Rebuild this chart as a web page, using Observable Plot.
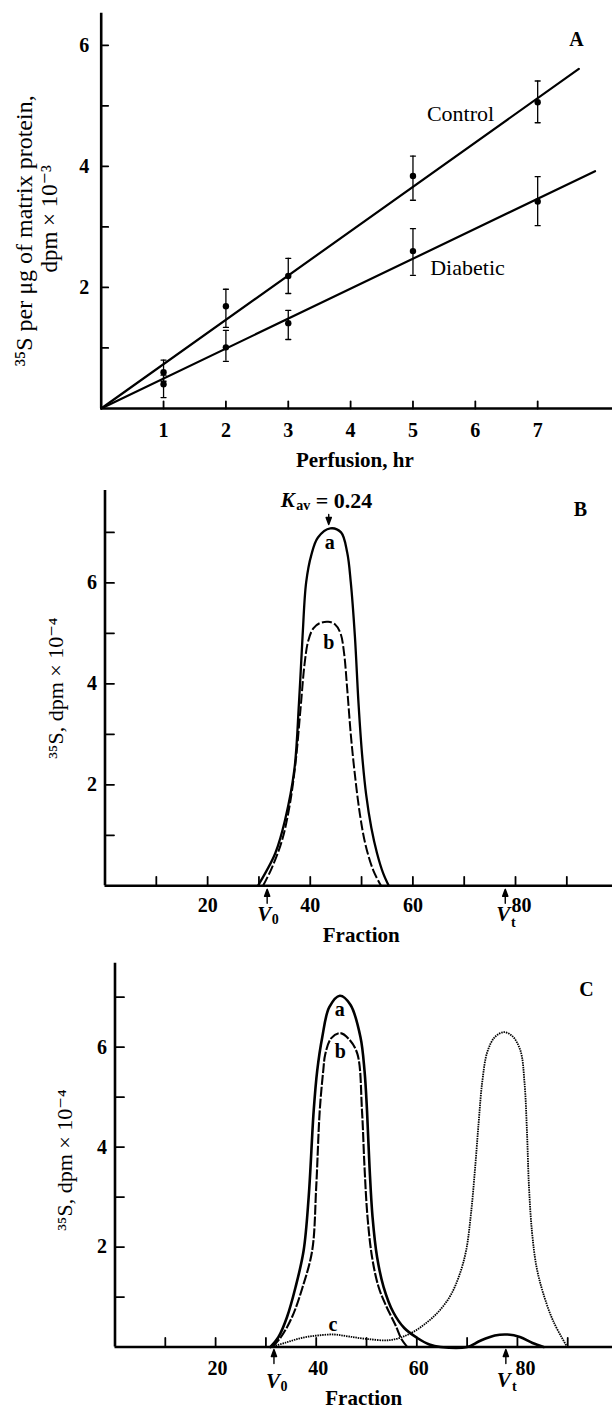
<!DOCTYPE html>
<html>
<head>
<meta charset="utf-8">
<script src="https://cdn.jsdelivr.net/npm/d3@7"></script>
<script src="https://cdn.jsdelivr.net/npm/@observablehq/plot@0.6"></script>
<style>
html, body { margin: 0; padding: 0; background: #fff; }
#chart { width: 612px; }
#chart svg { display: block; }
[aria-label$="tick label"] { font-weight: bold; }
</style>
</head>
<body>
<div id="chart"></div>
<script>
// ---------------- Panel A data ----------------
const hours = [1, 2, 3, 5, 7];
const controlMean = [0.6, 1.69, 2.19, 3.84, 5.06];
const controlLow = [0.45, 1.34, 1.9, 3.44, 4.72];
const controlHigh = [0.8, 1.97, 2.48, 4.17, 5.41];
const diabeticMean = [0.4, 1.01, 1.41, 2.6, 3.42];
const diabeticLow = [0.18, 0.78, 1.14, 2.2, 3.02];
const diabeticHigh = [0.55, 1.29, 1.62, 2.97, 3.83];
const controlFitHours = [0, 7.66];
const controlFitValues = [0, 5.61];
const diabeticFitHours = [0, 7.92];
const diabeticFitValues = [0, 3.92];
const hourTicks = [1, 2, 3, 4, 5, 6, 7];
const countTicksA = [1, 2, 3, 4, 5, 6];
const countLabelsA = [2, 4, 6];
const seriesNamesA = ["Control", "Diabetic"];

// ---------------- Panel B data ----------------
const bFractionA = [29.8, 31.5, 33.2, 35.1, 36.9, 37.8, 38.5, 39.2, 40.2, 41.5, 43.9, 46, 47.2, 47.9, 48.7, 49.4, 50.1, 50.9, 51.9, 53, 54.2, 55.3];
const bValueA    = [0, 0.3, 0.65, 1.31, 2.3, 3.62, 4.94, 6.01, 6.55, 6.9, 7.08, 7.0, 6.6, 6.01, 4.94, 3.62, 2.6, 1.8, 1.15, 0.65, 0.25, 0];
const bFractionB = [30.8, 32.5, 34.5, 36, 37.2, 38.1, 38.9, 39.6, 40.6, 41.8, 43.5, 44.8, 45.9, 46.6, 47.2, 47.9, 48.7, 49.7, 50.8, 52.3, 53.8];
const bValueB    = [0, 0.35, 0.9, 1.6, 2.5, 3.5, 4.4, 4.85, 5.1, 5.2, 5.23, 5.18, 5.0, 4.6, 3.9, 3.0, 2.2, 1.4, 0.8, 0.3, 0];
const bCurveNames = ["a", "b"];
const bPeakFractions = [43.8, 43.6];
const bPeakValues = [7.08, 5.22];
const bVoid = 31.6;
const bTotal = 78;
const bKav = 43.6;
const kavText = "0.24";

// ---------------- Panel C data ----------------
const cFractionA = [30.9, 32.5, 34.2, 35.9, 37.5, 38.5, 39.5, 40.2, 41.2, 42.6, 44.7, 46.8, 48.8, 49.6, 50.1, 50.6, 51.2, 52.1, 53.4, 55.3, 57.5, 60.1, 62.5, 64.7, 70, 72.5, 75.5, 78, 80.5, 83, 85.2];
const cValueA    = [0, 0.2, 0.6, 1.2, 1.93, 3.0, 4.73, 5.53, 6.2, 6.8, 7.03, 6.85, 6.2, 5.53, 4.73, 3.6, 2.6, 1.8, 1.2, 0.7, 0.38, 0.18, 0.05, 0, 0, 0.12, 0.23, 0.25, 0.2, 0.08, 0];
const cFractionB = [31.3, 33, 35.2, 37.3, 39.2, 40, 40.7, 41.4, 41.8, 43, 44.8, 46.6, 48.2, 49.1, 49.6, 50.2, 51.1, 52.4, 54, 55.7, 57, 58.1];
const cValueB    = [0, 0.2, 0.6, 1.2, 1.93, 3.2, 4.73, 5.53, 5.86, 6.18, 6.28, 6.15, 5.86, 4.73, 3.6, 2.6, 1.8, 1.2, 0.8, 0.45, 0.15, 0];
const cFractionC = [31, 34, 37, 40.2, 43.5, 46.5, 50.1, 54.8, 58.7, 62.1, 64.7, 66.8, 68.5, 69.8, 70.8, 71.6, 72.3, 73, 74, 75.5, 77.3, 79, 80.6, 81.4, 81.9, 82.3, 82.9, 83.8, 85.2, 87.2, 89.9];
const cValueC    = [0, 0.09, 0.18, 0.23, 0.25, 0.21, 0.16, 0.14, 0.27, 0.5, 0.75, 1.05, 1.45, 1.93, 2.7, 3.6, 4.5, 5.3, 5.9, 6.2, 6.3, 6.22, 5.93, 5.3, 4.3, 3.2, 2.3, 1.6, 1.05, 0.5, 0];
const cCurveNames = ["a", "b", "c"];
const cPeakFractions = [44.7, 44.8, 43.3];
const cPeakValues = [7.03, 6.28, 0.25];
const cVoid = 31.6;
const cTotal = 77.7;

// ---------------- shared axis data ----------------
const fractionTicks = [10, 20, 30, 40, 50, 60, 70, 80, 90];
const fractionLabels = [20, 40, 60];
const fractionLabelShifted = [80];
const dpmTicks = [1, 2, 3, 4, 5, 6, 7];
const dpmLabels = [2, 4, 6];

// ---------------- helpers ----------------
const serif = "'Liberation Serif', 'DejaVu Serif', serif";
const rows = (xs, ys) => xs.map((x, i) => ({x, y: ys[i]}));
const barRows = (xs, m, lo, hi) => xs.map((x, i) => ({x, y: m[i], lo: lo[i], hi: hi[i]}));
const labelRows = (names, xs, ys) => names.map((name, i) => ({name, x: xs[i], y: ys[i]}));
const tickShape = {draw(ctx, l) { ctx.moveTo(0, 0); ctx.lineTo(0, -l); }};
const arrowShape = {draw(ctx, l) {
  ctx.moveTo(0, 0); ctx.lineTo(0, -l + 4);
  ctx.moveTo(0, -l); ctx.lineTo(-2.6, -l + 7); ctx.lineTo(2.6, -l + 7); ctx.closePath();
}};
const baseStyle = {fontFamily: serif, background: "white", color: "black", overflow: "visible"};
const txt = {textAnchor: "middle", lineAnchor: "middle"};
const fmt = d => String(d);
const arrowStyle = {shape: arrowShape, fill: "black", stroke: "black", strokeWidth: 1.4, anchor: "start"};

function frameAxes(xTicks, yTicks, len, w) {
  return [
    Plot.ruleY([0], {strokeWidth: w}),
    Plot.ruleX([0], {strokeWidth: w}),
    Plot.vector(xTicks, {x: d => d, y: () => 0, length: len, rotate: 0, anchor: "start", shape: tickShape, stroke: "black", strokeWidth: 1.8}),
    Plot.vector(yTicks, {x: () => 0, y: d => d, length: len, rotate: 90, anchor: "start", shape: tickShape, stroke: "black", strokeWidth: 1.8})
  ];
}

// ---------------- Panel A ----------------
const controlRows = barRows(hours, controlMean, controlLow, controlHigh);
const diabeticRows = barRows(hours, diabeticMean, diabeticLow, diabeticHigh);
const chartA = Plot.plot({
  width: 612, height: 470,
  marginTop: 12.7, marginRight: 0, marginBottom: 62, marginLeft: 100.7,
  x: {domain: [0, 8.2]},
  y: {domain: [0, 6.53]},
  style: baseStyle,
  marks: [
    Plot.line(rows(controlFitHours, controlFitValues), {x: "x", y: "y", strokeWidth: 2.2}),
    Plot.line(rows(diabeticFitHours, diabeticFitValues), {x: "x", y: "y", strokeWidth: 2.2}),
    ...[controlRows, diabeticRows].flatMap(d => [
      Plot.ruleX(d, {x: "x", y1: "lo", y2: "hi", strokeWidth: 1.3}),
      Plot.vector(d, {x: "x", y: "hi", length: 5, rotate: 90, anchor: "middle", shape: tickShape, stroke: "black", strokeWidth: 1.3}),
      Plot.vector(d, {x: "x", y: "lo", length: 5, rotate: 90, anchor: "middle", shape: tickShape, stroke: "black", strokeWidth: 1.3}),
      Plot.dot(d, {x: "x", y: "y", r: 3.2, fill: "black", stroke: "none"})
    ]),
    ...frameAxes(hourTicks, countTicksA, 7, 2.6),
    Plot.axisX({ticks: hourTicks, tickFormat: fmt, tickSize: 0, tickPadding: 14, fontSize: 20, fontWeight: "bold", label: null}),
    Plot.axisY({ticks: countLabelsA, tickFormat: fmt, tickSize: 0, tickPadding: 12, fontSize: 20, fontWeight: "bold", label: null}),
    Plot.text(["A"], {...txt, frameAnchor: "top-right", dx: -36, dy: 26.3, fontSize: 20, fontWeight: "bold"}),
    Plot.text([seriesNamesA[0]], {...txt, frameAnchor: "top-left", dx: 359.3, dy: 100.3, fontSize: 22}),
    Plot.text([seriesNamesA[1]], {...txt, frameAnchor: "top-left", dx: 366.3, dy: 254.3, fontSize: 22}),
    Plot.text(["³⁵S per μg of matrix protein,"], {...txt, frameAnchor: "left", rotate: -90, dx: -76.7, dy: 20, fontSize: 24}),
    Plot.text(["dpm × 10⁻³"], {...txt, frameAnchor: "left", rotate: -90, dx: -51.5, dy: 8, fontSize: 23}),
    Plot.text(["Perfusion, hr"], {...txt, frameAnchor: "bottom", dx: -2, dy: 52, fontSize: 21, fontWeight: "bold"})
  ]
});

// ---------------- Panel B ----------------
const bLabels = labelRows(bCurveNames, bPeakFractions, bPeakValues);
const chartB = Plot.plot({
  width: 612, height: 480,
  marginTop: 20, marginRight: 0, marginBottom: 64.7, marginLeft: 104.5,
  x: {domain: [0, 98.9]},
  y: {domain: [0, 7.83]},
  style: baseStyle,
  marks: [
    Plot.line(rows(bFractionA, bValueA), {x: "x", y: "y", curve: "catmull-rom", strokeWidth: 2.3}),
    Plot.line(rows(bFractionB, bValueB), {x: "x", y: "y", curve: "catmull-rom", strokeWidth: 2, strokeDasharray: "10,2.5", strokeLinecap: "butt"}),
    ...frameAxes(fractionTicks, dpmTicks, 9, 2.6),
    Plot.axisX({ticks: fractionLabels, tickFormat: fmt, tickSize: 0, tickPadding: 12, fontSize: 20, fontWeight: "bold", label: null}),
    Plot.axisX({ticks: fractionLabelShifted, tickFormat: fmt, tickSize: 0, tickPadding: 12, dx: 6, fontSize: 20, fontWeight: "bold", label: null}),
    Plot.axisY({ticks: dpmLabels, tickFormat: fmt, tickSize: 0, tickPadding: 8, fontSize: 20, fontWeight: "bold", label: null}),
    Plot.text(bLabels.slice(0, 1), {...txt, x: "x", y: "y", text: "name", dy: 14, fontSize: 20, fontWeight: "bold"}),
    Plot.text(bLabels.slice(1), {...txt, x: "x", y: "y", text: "name", dy: 20, fontSize: 20, fontWeight: "bold"}),
    Plot.vector([bKav], {...arrowStyle, x: d => d, frameAnchor: "top", dy: 24, length: 10, rotate: 180}),
    Plot.text(["K"], {x: () => bKav, frameAnchor: "top", dx: -34, dy: 10, textAnchor: "end", lineAnchor: "middle", fontSize: 21, fontStyle: "italic", fontWeight: "bold"}),
    Plot.text(["av"], {x: () => bKav, frameAnchor: "top", dx: -32.5, dy: 15, textAnchor: "start", lineAnchor: "middle", fontSize: 14, fontWeight: "bold"}),
    Plot.text(["= " + kavText], {x: () => bKav, frameAnchor: "top", dx: -13, dy: 10, textAnchor: "start", lineAnchor: "middle", fontSize: 22, fontWeight: "bold"}),
    Plot.vector([bVoid, bTotal], {...arrowStyle, x: d => d, y: () => 0, dy: 17.5, length: 14, rotate: 0}),
    Plot.text(["V"], {...txt, x: () => bVoid, y: () => 0, dx: -3, dy: 28, fontSize: 21, fontStyle: "italic", fontWeight: "bold"}),
    Plot.text(["0"], {...txt, x: () => bVoid, y: () => 0, dx: 8, dy: 34, fontSize: 14, fontWeight: "bold"}),
    Plot.text(["V"], {...txt, x: () => bTotal, y: () => 0, dx: -2, dy: 28, fontSize: 21, fontStyle: "italic", fontWeight: "bold"}),
    Plot.text(["t"], {...txt, x: () => bTotal, y: () => 0, dx: 8, dy: 36.5, fontSize: 14, fontWeight: "bold"}),
    Plot.text(["B"], {...txt, frameAnchor: "top-right", dx: -32, dy: 19, fontSize: 20, fontWeight: "bold"}),
    Plot.text(["³⁵S, dpm × 10⁻⁴"], {...txt, frameAnchor: "left", rotate: -90, dx: -49.5, dy: 0, fontSize: 22}),
    Plot.text(["Fraction"], {...txt, frameAnchor: "bottom", dx: 2.5, dy: 49.7, fontSize: 21, fontWeight: "bold"})
  ]
});

// ---------------- Panel C ----------------
const cLabels = labelRows(cCurveNames, cPeakFractions, cPeakValues);
const chartC = Plot.plot({
  width: 612, height: 458,
  marginTop: 12.7, marginRight: 0, marginBottom: 61.5, marginLeft: 114.5,
  x: {domain: [0, 98.9]},
  y: {domain: [0, 7.68]},
  style: baseStyle,
  marks: [
    Plot.line(rows(cFractionC, cValueC), {x: "x", y: "y", curve: "catmull-rom", strokeWidth: 1.8, strokeDasharray: "1.5,0.9", strokeLinecap: "butt"}),
    Plot.line(rows(cFractionB, cValueB), {x: "x", y: "y", curve: "catmull-rom", strokeWidth: 2.1, strokeDasharray: "10,1.8", strokeLinecap: "butt"}),
    Plot.line(rows(cFractionA, cValueA), {x: "x", y: "y", curve: "catmull-rom", strokeWidth: 2.6}),
    ...frameAxes(fractionTicks, dpmTicks, 9, 2.6),
    Plot.axisX({ticks: fractionLabels, tickFormat: fmt, tickSize: 0, tickPadding: 13.5, dx: 2, fontSize: 20, fontWeight: "bold", label: null}),
    Plot.axisX({ticks: fractionLabelShifted, tickFormat: fmt, tickSize: 0, tickPadding: 13.5, dx: 8, fontSize: 20, fontWeight: "bold", label: null}),
    Plot.axisY({ticks: dpmLabels, tickFormat: fmt, tickSize: 0, tickPadding: 8, fontSize: 20, fontWeight: "bold", label: null}),
    Plot.text(cLabels.slice(0, 1), {...txt, x: "x", y: "y", text: "name", dy: 13.5, fontSize: 20, fontWeight: "bold"}),
    Plot.text(cLabels.slice(1, 2), {...txt, x: "x", y: "y", text: "name", dy: 18, fontSize: 20, fontWeight: "bold"}),
    Plot.text(cLabels.slice(2), {...txt, x: "x", y: "y", text: "name", dy: -10, fontSize: 20, fontWeight: "bold"}),
    Plot.vector([cVoid, cTotal], {...arrowStyle, x: d => d, y: () => 0, dy: 16.5, length: 14, rotate: 0}),
    Plot.text(["V"], {...txt, x: () => cVoid, y: () => 0, dx: -1, dy: 34, fontSize: 21, fontStyle: "italic", fontWeight: "bold"}),
    Plot.text(["0"], {...txt, x: () => cVoid, y: () => 0, dx: 10, dy: 40, fontSize: 14, fontWeight: "bold"}),
    Plot.text(["V"], {...txt, x: () => cTotal, y: () => 0, dx: -2, dy: 33, fontSize: 21, fontStyle: "italic", fontWeight: "bold"}),
    Plot.text(["t"], {...txt, x: () => cTotal, y: () => 0, dx: 8.5, dy: 40, fontSize: 14, fontWeight: "bold"}),
    Plot.text(["C"], {...txt, frameAnchor: "top-right", dx: -26, dy: 26.3, fontSize: 20, fontWeight: "bold"}),
    Plot.text(["³⁵S, dpm × 10⁻⁴"], {...txt, frameAnchor: "left", rotate: -90, dx: -49.8, dy: 5, fontSize: 22}),
    Plot.text(["Fraction"], {...txt, frameAnchor: "bottom", dx: 0, dy: 51.5, fontSize: 21, fontWeight: "bold"})
  ]
});

document.getElementById("chart").append(chartA, chartB, chartC);
</script>
</body>
</html>
